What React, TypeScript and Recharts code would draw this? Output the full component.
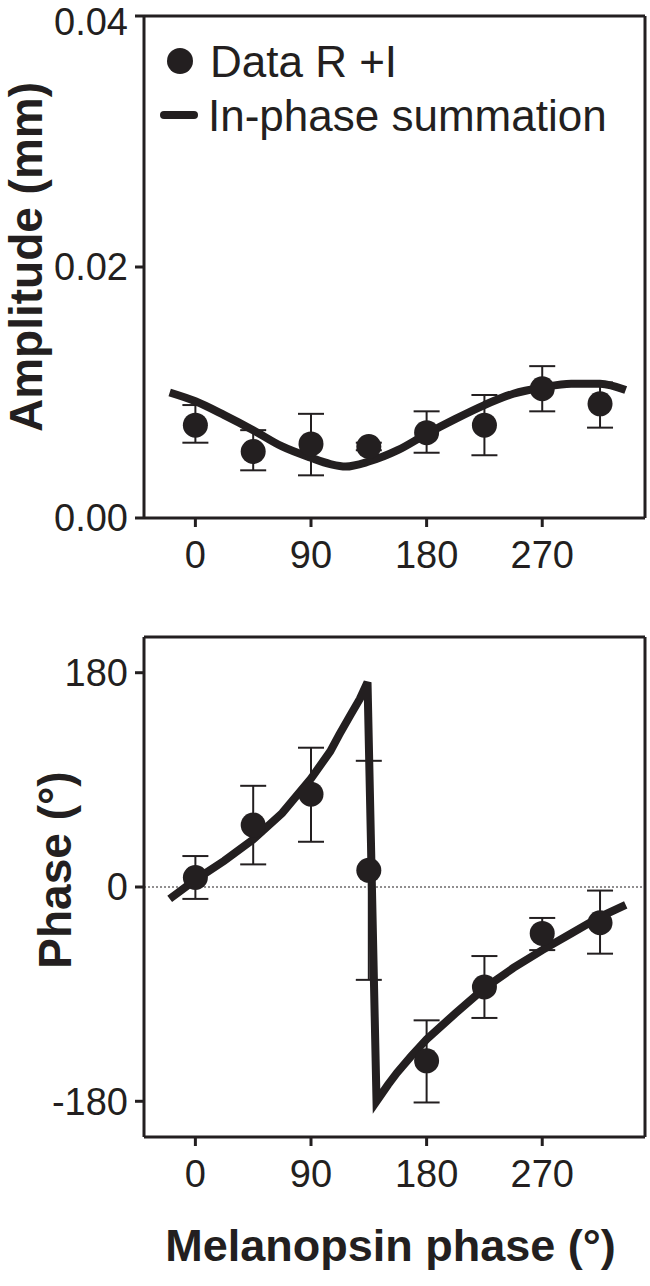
import {
    ComposedChart,
    Scatter,
    Line,
    XAxis,
    YAxis,
    ErrorBar,
    ReferenceLine,
} from "recharts";

const ink = "#231f20";
const font = '"Liberation Sans", Arial, Helvetica, sans-serif';

// melanopsin phase of each measured condition (deg)
const phases = [0, 45, 90, 135, 180, 225, 270, 315];

// amplitude (mm), mean with error bar ends
const ampMean = [0.0074, 0.0053, 0.0059, 0.0057, 0.0068, 0.0074, 0.0103, 0.0091];
const ampHigh = [0.009, 0.007, 0.0083, 0.006, 0.0085, 0.0098, 0.0121, 0.0108];
const ampLow = [0.006, 0.0038, 0.0034, 0.0054, 0.0052, 0.005, 0.0085, 0.0072];

// in-phase summation curve, amplitude
const ampFitX = [-20, 0, 22.5, 45, 67.5, 90, 105, 117, 135, 157.5, 180, 202.5, 225, 247.5, 270, 292.5, 315, 335];
const ampFit = [0.01, 0.0093, 0.0082, 0.007, 0.0057, 0.0048, 0.0043, 0.0041, 0.0045, 0.0054, 0.0067, 0.0079, 0.009, 0.0099, 0.0104, 0.0107, 0.0107, 0.0102];

// phase (deg), mean with error bar ends
const phaseMean = [8, 52, 78, 14, -146, -84, -39, -30];
const phaseHigh = [26, 85, 117, 106, -112, -58, -26, -3];
const phaseLow = [-10, 19, 38, -78, -181, -110, -53, -56];

// in-phase summation curve, phase (wraps at +/-180)
const phaseFitX = [-20, 0, 22.5, 45, 67.5, 90, 105, 112, 121, 128, 134, 141, 150, 157, 168, 180, 202.5, 225, 247.5, 270, 292.5, 315, 335];
const phaseFit = [-10, 6, 22, 40, 62, 91, 114, 128, 145, 158, 172, -180, -166, -156, -142, -128, -106, -85, -68, -53, -39, -25, -15];

const xTicks = [0, 90, 180, 270];
const ampTicks = [0, 0.02, 0.04];
const phaseTicks = [-180, 0, 180];

const ampData = phases.map((x, i) => ({
    x,
    y: ampMean[i],
    err: [ampMean[i] - ampLow[i], ampHigh[i] - ampMean[i]],
}));
const ampCurve = ampFitX.map((x, i) => ({x, y: ampFit[i]}));

const phaseData = phases.map((x, i) => ({
    x,
    y: phaseMean[i],
    err: [phaseMean[i] - phaseLow[i], phaseHigh[i] - phaseMean[i]],
}));
const phaseCurve = phaseFitX.map((x, i) => ({x, y: phaseFit[i]}));

const tickStyle = {fill: ink, fontSize: 38, fontFamily: font};
const axisStroke = {stroke: ink, strokeWidth: 3};

const dot = (p: any) => <circle cx={p.cx} cy={p.cy} r={12.5} fill={ink}/>;

const yTitle = (text: string, dx: number, dy: number) => (props: any) => {
    const vb = props.viewBox || {};
    const cx = vb.x + dx;
    const cy = vb.y + vb.height / 2 + dy;
    return (
        <text x={cx} y={cy} transform={`rotate(-90 ${cx} ${cy})`} textAnchor="middle"
              dominantBaseline="central" fontFamily={font} fontSize={46} fontWeight={700} fill={ink}>
            {text}
        </text>
    );
};

const xTitle = (props: any) => {
    const vb = props.viewBox || {};
    return (
        <text x={vb.x + vb.width / 2 - 4} y={vb.y + 108} textAnchor="middle" dominantBaseline="central"
              fontFamily={font} fontSize={45} fontWeight={700} fill={ink}>
            Melanopsin phase (°)
        </text>
    );
};

export default function App() {
    return (
        <div style={{position: "absolute", left: 0, top: 0, width: 650, height: 1286, background: "#fff"}}>
            {/* amplitude */}
            <div style={{position: "absolute", left: 0, top: 0}}>
                <ComposedChart width={650} height={620} margin={{top: 16, right: 5, bottom: 0, left: 0}}>
                    <XAxis dataKey="x" type="number" domain={[-40, 350]} ticks={xTicks} allowDataOverflow
                           height={102} tickSize={9} tickMargin={14} tick={tickStyle}
                           axisLine={axisStroke} tickLine={axisStroke}/>
                    <YAxis type="number" domain={[0, 0.04]} ticks={ampTicks} allowDataOverflow width={144}
                           tickSize={9} tickMargin={7} tick={tickStyle} tickFormatter={(v: number) => v.toFixed(2)}
                           axisLine={axisStroke} tickLine={axisStroke}
                           label={yTitle("Amplitude (mm)", 26, -10)}/>
                    <ReferenceLine y={0.04} stroke={ink} strokeWidth={3}/>
                    <ReferenceLine x={350} stroke={ink} strokeWidth={3}/>
                    <Scatter data={ampData} dataKey="y" shape={dot} isAnimationActive={false}>
                        <ErrorBar dataKey="err" direction="y" width={13} stroke={ink} strokeWidth={2}
                                  isAnimationActive={false}/>
                    </Scatter>
                    <Line data={ampCurve} dataKey="y" type="monotone" stroke={ink} strokeWidth={8}
                          dot={false} activeDot={false} isAnimationActive={false}/>
                </ComposedChart>
            </div>

            {/* phase */}
            <div style={{position: "absolute", left: 0, top: 620}}>
                <ComposedChart width={650} height={666} margin={{top: 17, right: 5, bottom: 0, left: 0}}>
                    <XAxis dataKey="x" type="number" domain={[-40, 350]} ticks={xTicks} allowDataOverflow
                           height={149} tickSize={9} tickMargin={14} tick={tickStyle}
                           axisLine={axisStroke} tickLine={axisStroke} label={xTitle}/>
                    <YAxis type="number" domain={[-210, 210]} ticks={phaseTicks} allowDataOverflow width={144}
                           tickSize={9} tickMargin={7} tick={tickStyle}
                           axisLine={axisStroke} tickLine={axisStroke}
                           label={yTitle("Phase (°)", 55, -17)}/>
                    <ReferenceLine y={210} stroke={ink} strokeWidth={3}/>
                    <ReferenceLine x={350} stroke={ink} strokeWidth={3}/>
                    <ReferenceLine y={0} stroke={ink} strokeWidth={1} strokeDasharray="2 2"/>
                    <Scatter data={phaseData} dataKey="y" shape={dot} isAnimationActive={false}>
                        <ErrorBar dataKey="err" direction="y" width={13} stroke={ink} strokeWidth={2}
                                  isAnimationActive={false}/>
                    </Scatter>
                    <Line data={phaseCurve} dataKey="y" type="linear" stroke={ink} strokeWidth={8}
                          dot={false} activeDot={false} isAnimationActive={false}/>
                </ComposedChart>
            </div>

            {/* legend */}
            <svg width={650} height={150} style={{position: "absolute", left: 0, top: 0}}>
                <circle cx={180} cy={61} r={13} fill={ink}/>
                <text x={210} y={77} fontFamily={font} fontSize={44} fill={ink}>Data R +I</text>
                <line x1={164} y1={115} x2={194} y2={115} stroke={ink} strokeWidth={8} strokeLinecap="round"/>
                <text x={208} y={131} fontFamily={font} fontSize={44} fill={ink}>In-phase summation</text>
            </svg>
        </div>
    );
}
